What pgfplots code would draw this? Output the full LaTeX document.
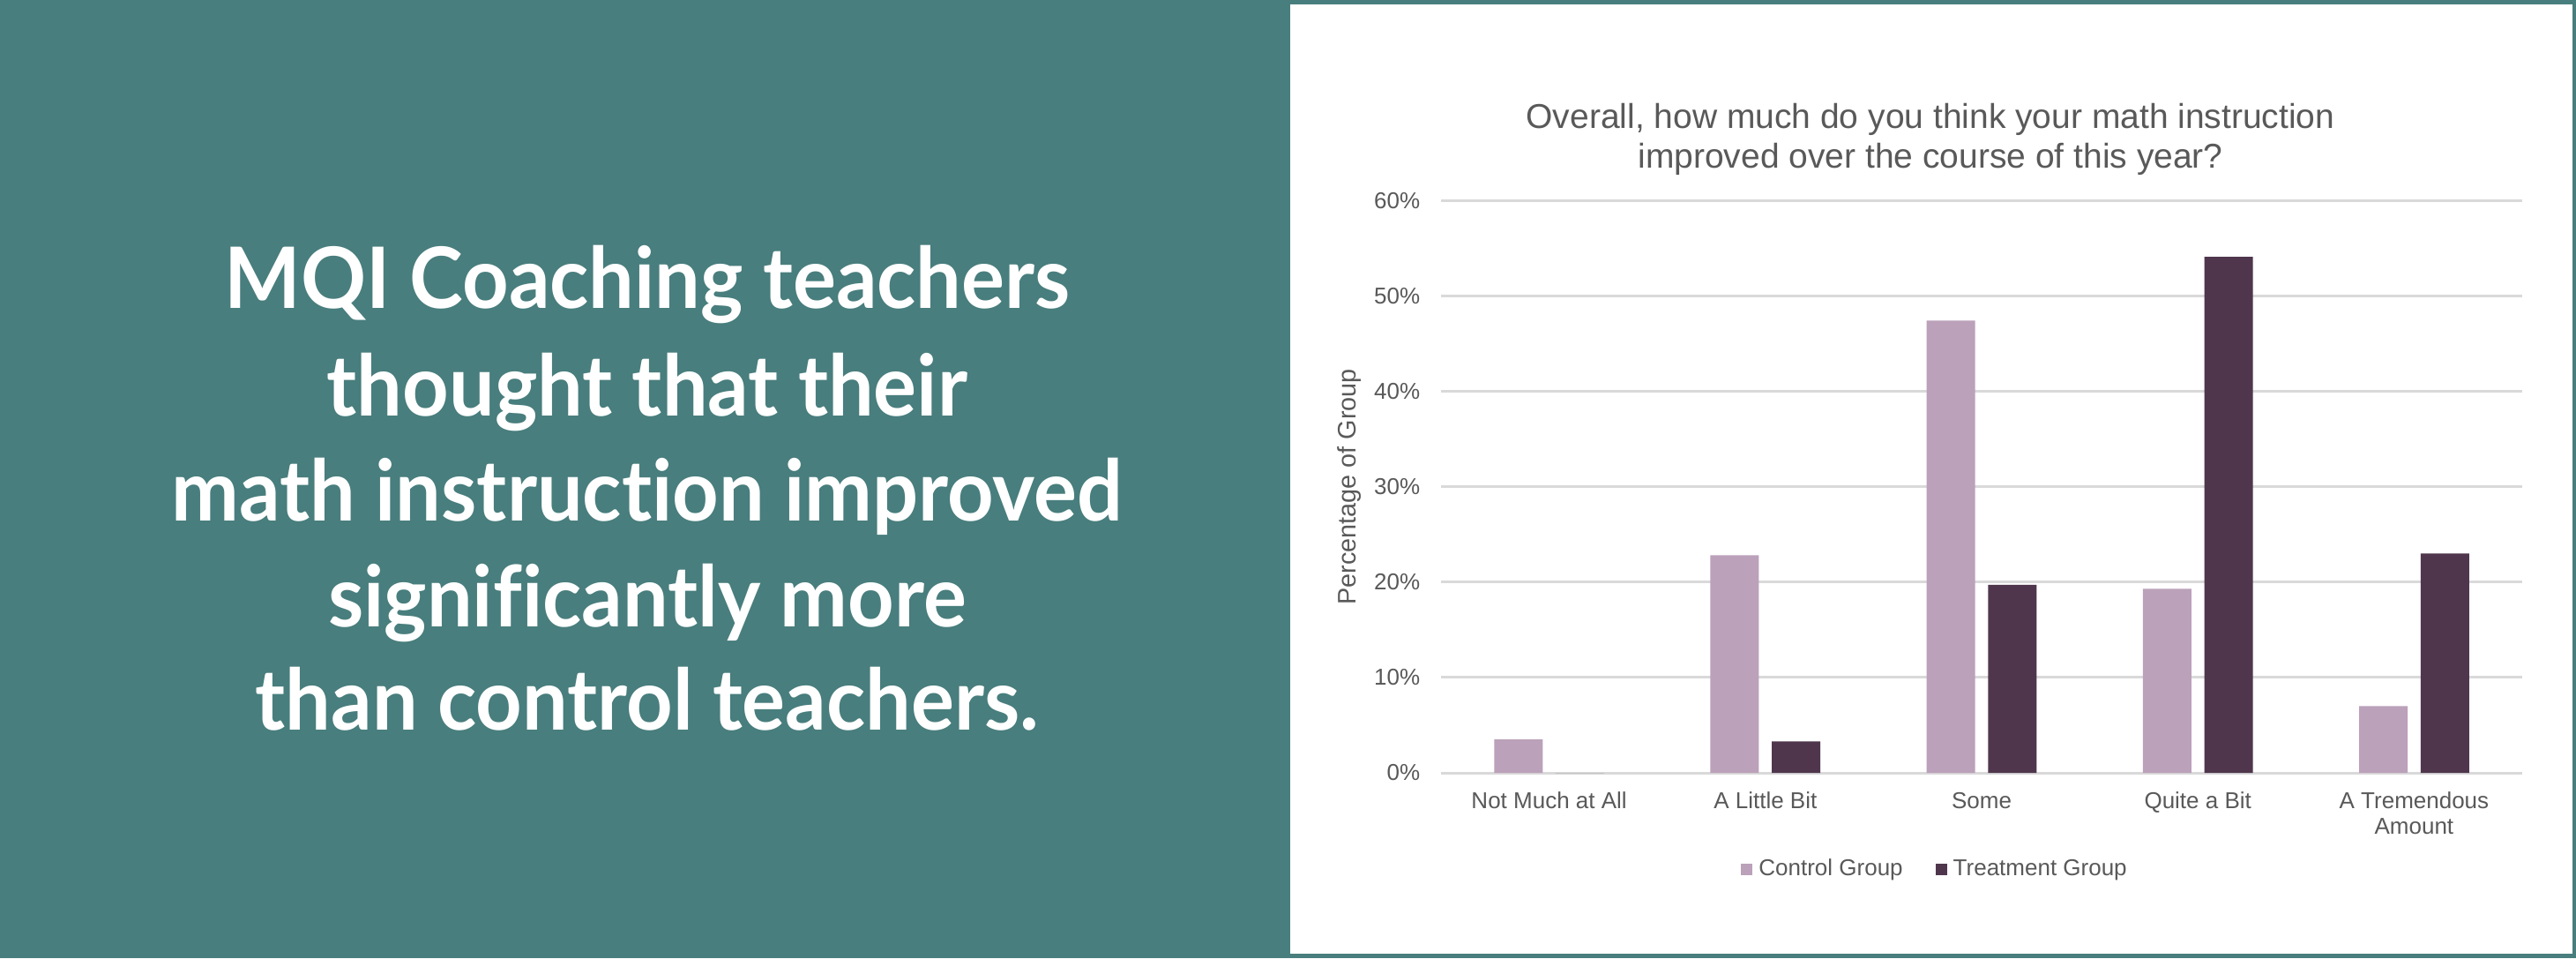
\documentclass[border=0pt]{standalone}
\usepackage{fontspec}
\setmainfont{Liberation Sans}
\newfontfamily\headfont[Ligatures=NoCommon]{Lato}
\usepackage{pgfplots}
\pgfplotsset{compat=1.18}

\definecolor{bgteal}{HTML}{487E7D}
\definecolor{ctrl}{HTML}{BBA1BA}
\definecolor{treat}{HTML}{4F364D}
\definecolor{txt}{HTML}{595959}
\definecolor{gridc}{HTML}{D9D9D9}

\newcommand{\hl}[1]{\scalebox{0.955}[1]{#1}}

\begin{document}
\begin{tikzpicture}
% background panels
\fill[bgteal] (0,0) rectangle (730.25pt,271.5pt);
\fill[white] (365.75pt,1.25pt) rectangle (729.25pt,270.25pt);

% left statement
\begin{scope}[every node/.style={anchor=base, inner sep=0pt, text=white,
    font=\headfont\bfseries\fontsize{24}{29}\selectfont}]
\node at (183.5pt,184.05pt) {\hl{MQI Coaching teachers}};
\node at (183.5pt,153.75pt) {\hl{thought that their}};
\node at (183.5pt,124pt) {\hl{math instruction improved}};
\node at (183.5pt,94pt) {\hl{significantly more}};
\node at (183.5pt,64.6pt) {\hl{than control teachers.}};
\end{scope}

\begin{axis}[
    at={(408.5pt,52.5pt)}, anchor=south west,
    scale only axis,
    width=306.5pt, height=162.2pt,
    xmin=-0.5, xmax=4.5,
    ymin=0, ymax=60,
    ybar=3.67pt, bar width=13.75pt,
    axis y line*=left,
    axis x line*=bottom,
    y axis line style={draw=none},
    x axis line style={gridc, line width=0.75pt, -},
    ymajorgrids,
    grid style={gridc, line width=0.75pt},
    major tick length=0pt,
    xtick={0,1,2,3,4},
    xticklabels={Not Much at All, A Little Bit, Some, Quite a Bit,
        {\begin{tabular}[t]{@{}c@{}}A Tremendous\\Amount\end{tabular}}},
    xticklabel style={anchor=base, yshift=-10pt, inner sep=0pt,
        text=txt, font=\fontsize{6.5}{7.4}\selectfont},
    ytick={0,10,20,30,40,50,60},
    yticklabels={0\%,10\%,20\%,30\%,40\%,50\%,60\%},
    yticklabel style={anchor=east, inner sep=0pt, xshift=-5.75pt,
        text=txt, font=\fontsize{6.5}{7.4}\selectfont},
    ylabel={Percentage of Group},
    ylabel style={at={(axis description cs:-0.0848,0.5)}, anchor=center,
        text=txt, font=\fontsize{7.2}{8.6}\selectfont},
    legend style={at={(0.456,-0.1696)}, anchor=center, draw=none, fill=none,
        inner sep=0pt, column sep=1.75pt, nodes={inner sep=0pt},
        font=\fontsize{6.5}{7.4}\selectfont, text=txt,
        /tikz/every even column/.append style={column sep=9.25pt}},
    legend columns=2,
    legend image code/.code={\fill[#1] (0pt,-1.6pt) rectangle (3.25pt,1.65pt);},
]
\addplot[fill=ctrl, draw=none] coordinates {(0,3.5) (1,22.8) (2,47.4) (3,19.3) (4,7.0)};
\addplot[fill=treat, draw=none] coordinates {(0,0) (1,3.3) (2,19.7) (3,54.1) (4,23.0)};
\legend{Control Group, Treatment Group}
\end{axis}

% chart title
\begin{scope}[every node/.style={anchor=base, inner sep=0pt, text=txt,
    font=\fontsize{9.75}{11.3}\selectfont}]
\node at (547.25pt,235.15pt) {Overall, how much do you think your math instruction};
\node at (547.25pt,223.9pt) {improved over the course of this year?};
\end{scope}
\end{tikzpicture}
\end{document}
